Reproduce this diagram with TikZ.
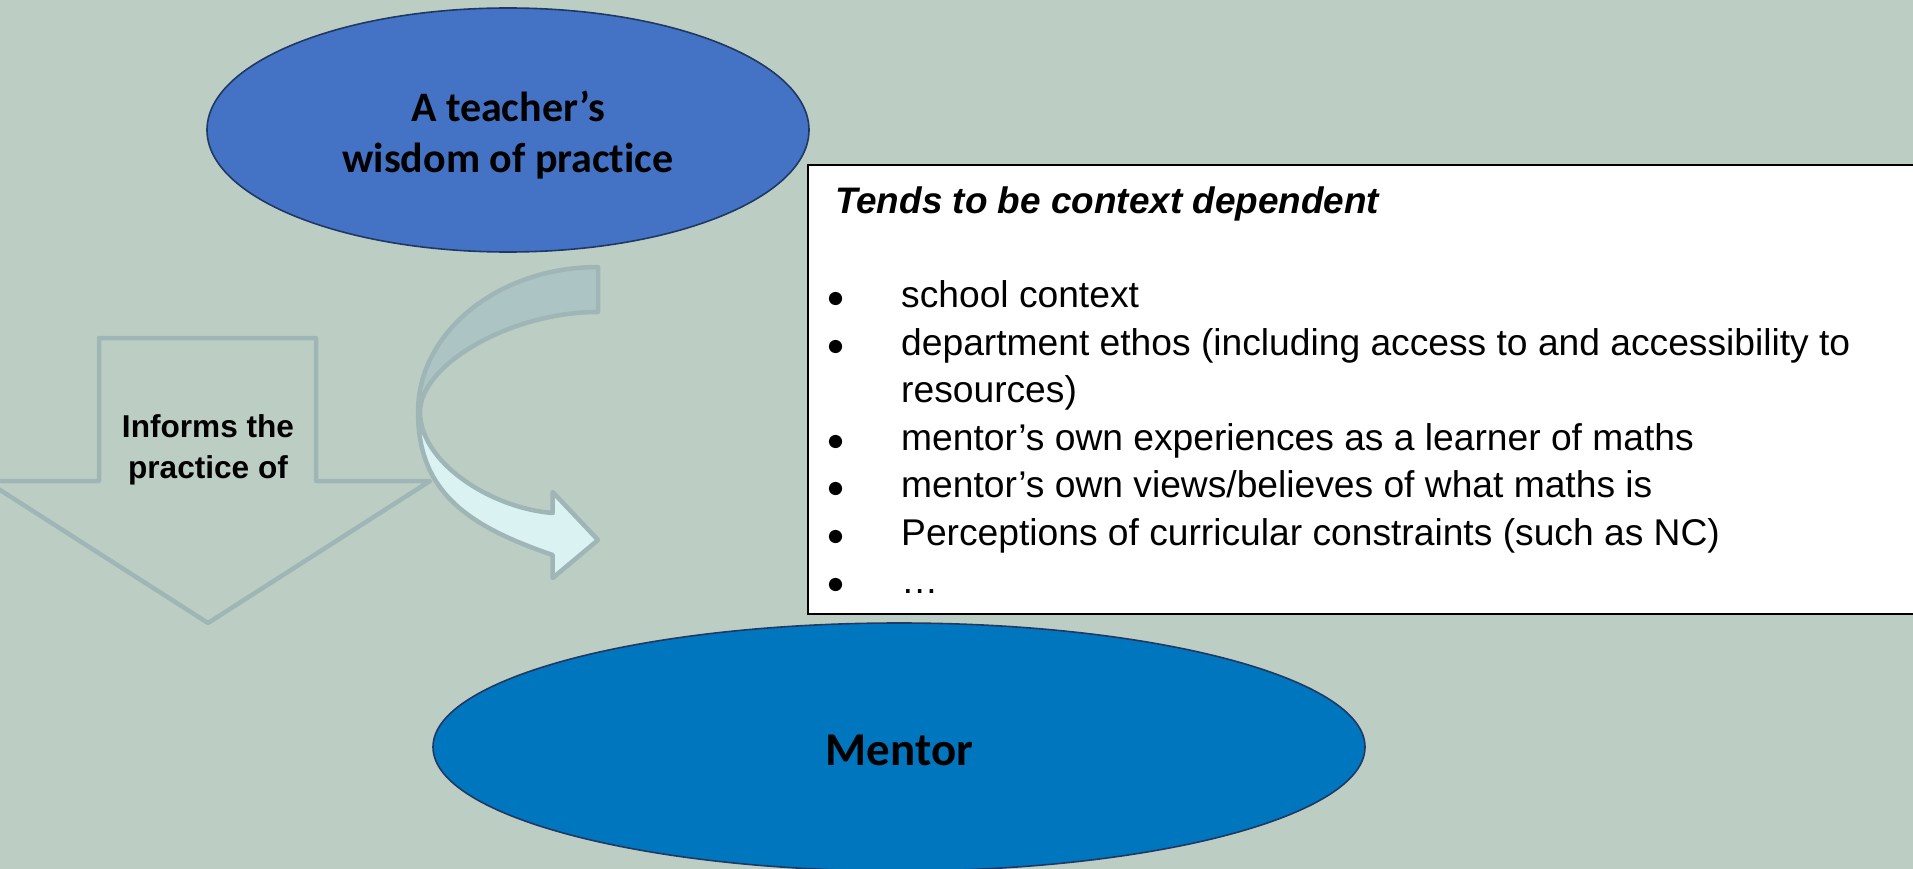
\documentclass[tikz,border=0pt]{standalone}
\usepackage{fontspec}
\setmainfont{Liberation Sans}
\newfontfamily\calib[Ligatures=NoCommon]{Carlito}
\usetikzlibrary{shapes.geometric}
\definecolor{bgc}{RGB}{188,206,196}
\definecolor{arrline}{RGB}{160,181,181}
\definecolor{backband}{RGB}{173,196,196}
\definecolor{frontband}{RGB}{218,242,242}
\definecolor{topblue}{RGB}{68,114,196}
\definecolor{mentorblue}{RGB}{0,118,190}
\definecolor{navy}{RGB}{32,56,100}
\tikzset{
  ovalshape/.style={ellipse, draw=navy, line width=1.6pt, inner sep=0pt},
  arrowshape/.style={draw=arrline, line width=4.5pt, line join=round},
  itemtext/.style={anchor=base west, inner sep=0pt, font=\fontsize{37.2}{47.5}\selectfont},
  dotmark/.style={fill=black},
}
\begin{document}
\begin{tikzpicture}[x=1pt,y=-1pt]
\useasboundingbox (0,0) rectangle (1913,869);
\fill[bgc] (0,0) rectangle (1913,869);

% top ellipse
\node[ovalshape, fill=topblue, minimum width=602pt, minimum height=244pt] (teacher) at (508,130) {};
\node[inner sep=0pt, align=center, font=\calib\bfseries\fontsize{42}{51}\selectfont] (teachertext) at (508,135) {A teacher’s\\wisdom of practice};

% down arrow
\draw[arrowshape, fill=bgc] (99,481) -- (99,338) -- (316,338) -- (316,481) -- (430,481) -- (208,623) -- (-14,481) -- cycle;
\node[inner sep=0pt, align=center, font=\bfseries\fontsize{31.6}{41.5}\selectfont] (informs) at (208,450) {Informs the\\practice of};

% curved arrow: back band
\draw[arrowshape, fill=backband] (598,267) .. controls (498.6,267) and (418,331.9) .. (418,412)
  -- (420,412) .. controls (420,365) and (510,312) .. (598,312) -- cycle;
% front band with head
\draw[arrowshape, fill=frontband] (418,412) .. controls (418,492) and (467.7,526) .. (552.7,555)
  -- (552.7,578) -- (598,540) -- (552.7,492) -- (552.7,513)
  .. controls (490,508) and (420,462) .. (420,412) -- cycle;

% context box
\draw[fill=white, draw=black, line width=2.2pt] (808,165) rectangle (1925,614);
\node[itemtext, font=\bfseries\itshape\fontsize{36.9}{44}\selectfont] (title) at (835,213) {Tends to be context dependent};
\foreach \yy in {307,355,450,497,545,593} \fill[dotmark] (835.5,\yy-8.5) circle (6.6);
\node[itemtext] (i1) at (901,307) {school context};
\node[itemtext] (i2) at (901,355) {department ethos (including access to and accessibility to};
\node[itemtext] (i2b) at (901,402) {resources)};
\node[itemtext] (i3) at (901,450) {mentor’s own experiences as a learner of maths};
\node[itemtext] (i4) at (901,497) {mentor’s own views/believes of what maths is};
\node[itemtext] (i5) at (901,545) {Perceptions of curricular constraints (such as NC)};
\node[itemtext] (i6) at (901,593) {…};

% mentor ellipse
\node[ovalshape, fill=mentorblue, minimum width=932pt, minimum height=248pt] (mentor) at (899,747) {};
\node[anchor=base, inner sep=0pt, font=\calib\bfseries\fontsize{47}{55}\selectfont] (mentortext) at (899.5,765) {Mentor};
\end{tikzpicture}
\end{document}
